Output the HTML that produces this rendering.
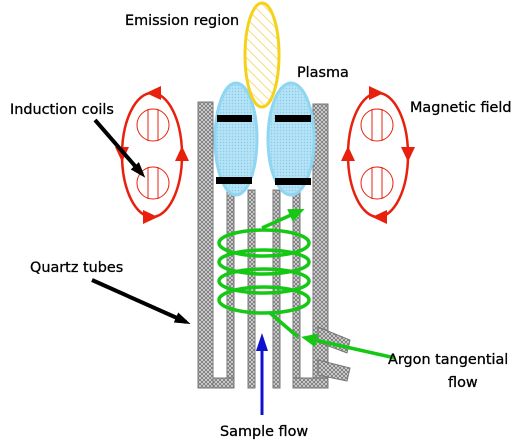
<!DOCTYPE html>
<html><head><meta charset="utf-8"><style>
html,body{margin:0;padding:0;background:#fff;width:516px;height:444px;overflow:hidden}
svg{display:block}
text{font-family:"DejaVu Sans","Liberation Sans",sans-serif;font-size:14.4px;fill:#000;stroke:#000;stroke-width:0.3}
</style></head><body>
<svg width="516" height="444" viewBox="0 0 516 444">
<defs>
<pattern id="cross" width="4" height="4" patternUnits="userSpaceOnUse">
<rect width="4" height="4" fill="#ddd"/><path d="M0 0L4 4M4 0L0 4" stroke="#777" stroke-width="0.9"/></pattern>
<pattern id="dots" width="3" height="3" patternUnits="userSpaceOnUse">
<rect width="3" height="3" fill="#b4e2f6"/><circle cx="1.5" cy="1.5" r="0.7" fill="#8ccbe8"/></pattern>
<pattern id="hatch" width="7" height="7" patternUnits="userSpaceOnUse" patternTransform="rotate(-45)">
<rect width="7" height="7" fill="#fff"/><line x1="0" y1="0" x2="0" y2="7" stroke="#f1d24a" stroke-width="1.5"/></pattern>
<marker id="ar" markerUnits="userSpaceOnUse" markerWidth="15" markerHeight="14" refX="7" refY="7" orient="auto"><path d="M0 0L15 7L0 14z" fill="#e8210e"/></marker>
<marker id="ag" markerUnits="userSpaceOnUse" markerWidth="16" markerHeight="14" refX="11" refY="7" orient="auto"><path d="M0 0L16 7L0 14z" fill="#14c814"/></marker>
<marker id="ab" markerUnits="userSpaceOnUse" markerWidth="18" markerHeight="12" refX="11" refY="6" orient="auto"><path d="M0 0L18 6L0 12z" fill="#1010d0"/></marker>
<marker id="ak" markerUnits="userSpaceOnUse" markerWidth="16" markerHeight="11" refX="11" refY="5.5" orient="auto"><path d="M0 0L16 5.5L0 11z" fill="#000"/></marker>
</defs>
<g stroke="#777" stroke-width="1" fill="url(#cross)">
<rect x="198" y="102" width="15" height="286"/>
<rect x="227" y="190" width="7" height="198"/>
<rect x="213" y="378" width="21" height="10"/>
<rect x="248" y="190" width="7" height="198"/>
<rect x="273" y="190" width="7" height="198"/>
<rect x="293" y="190" width="7" height="198"/>
<rect x="313" y="104" width="15" height="284"/>
<rect x="293" y="378" width="35" height="10"/>
<polygon points="318,327 350,340 347,353 318,342"/>
<polygon points="318,360 350,368 347,381 318,375"/>
</g>
<g>
<ellipse cx="236" cy="139" rx="21" ry="56" fill="url(#dots)" stroke="#8fd6f2" stroke-width="3"/>
<ellipse cx="291" cy="139" rx="23" ry="56" fill="url(#dots)" stroke="#8fd6f2" stroke-width="3"/>
<rect x="217" y="115" width="35" height="7" fill="#000"/>
<rect x="216" y="177" width="36" height="7" fill="#000"/>
<rect x="275" y="115" width="36" height="7" fill="#000"/>
<rect x="275" y="178" width="36" height="7" fill="#000"/>
</g>
<ellipse cx="262" cy="55" rx="17" ry="52" fill="url(#hatch)" stroke="#f5d21a" stroke-width="3"/>
<g fill="none" stroke="#14c814" stroke-width="3.5">
<ellipse cx="264" cy="243" rx="45" ry="13"/>
<ellipse cx="264" cy="262" rx="45" ry="12"/>
<ellipse cx="264" cy="281" rx="45" ry="12"/>
<ellipse cx="264" cy="300" rx="45" ry="13"/>
<path d="M262 228 L300 211" marker-end="url(#ag)"/>
<path d="M270 313 L298 337"/>
<path d="M395 358 L306 338" marker-end="url(#ag)"/>
</g>
<g fill="none" stroke="#e8210e">
<ellipse cx="152" cy="155" rx="30" ry="62" stroke-width="2.5"/>
<path d="M160 93 L154 93" stroke-width="2" marker-end="url(#ar)"/>
<path d="M182 162 L182 154" stroke-width="2" marker-end="url(#ar)"/>
<path d="M144 217 L150 217" stroke-width="2" marker-end="url(#ar)"/>
<path d="M122 146 L122 154" stroke-width="2" marker-end="url(#ar)"/>
<circle cx="153" cy="125" r="16"/><line x1="148" y1="109" x2="148" y2="141"/><line x1="158" y1="109" x2="158" y2="141"/>
<circle cx="153" cy="183" r="16"/><line x1="148" y1="167" x2="148" y2="199"/><line x1="158" y1="167" x2="158" y2="199"/>
</g>
<g fill="none" stroke="#e8210e">
<ellipse cx="378" cy="155" rx="30" ry="62" stroke-width="2.5"/>
<path d="M370 93 L376 93" stroke-width="2" marker-end="url(#ar)"/>
<path d="M408 146 L408 154" stroke-width="2" marker-end="url(#ar)"/>
<path d="M386 217 L380 217" stroke-width="2" marker-end="url(#ar)"/>
<path d="M348 162 L348 154" stroke-width="2" marker-end="url(#ar)"/>
<circle cx="377" cy="125" r="16"/><line x1="372" y1="109" x2="372" y2="141"/><line x1="382" y1="109" x2="382" y2="141"/>
<circle cx="377" cy="183" r="16"/><line x1="372" y1="167" x2="372" y2="199"/><line x1="382" y1="167" x2="382" y2="199"/>
</g>
<path d="M262 415 L262 340" stroke="#1010d0" stroke-width="3" marker-end="url(#ab)"/>
<path d="M95 120 L142 174" stroke="#000" stroke-width="4" marker-end="url(#ak)"/>
<path d="M92 280 L186 322" stroke="#000" stroke-width="4" marker-end="url(#ak)"/>
<text x="125" y="25">Emission region</text>
<text x="297" y="77">Plasma</text>
<text x="10" y="114">Induction coils</text>
<text x="410" y="112">Magnetic field</text>
<text x="30" y="272">Quartz tubes</text>
<text x="388" y="364">Argon tangential</text>
<text x="448" y="387">flow</text>
<text x="220" y="436">Sample flow</text>
</svg>
</body></html>
